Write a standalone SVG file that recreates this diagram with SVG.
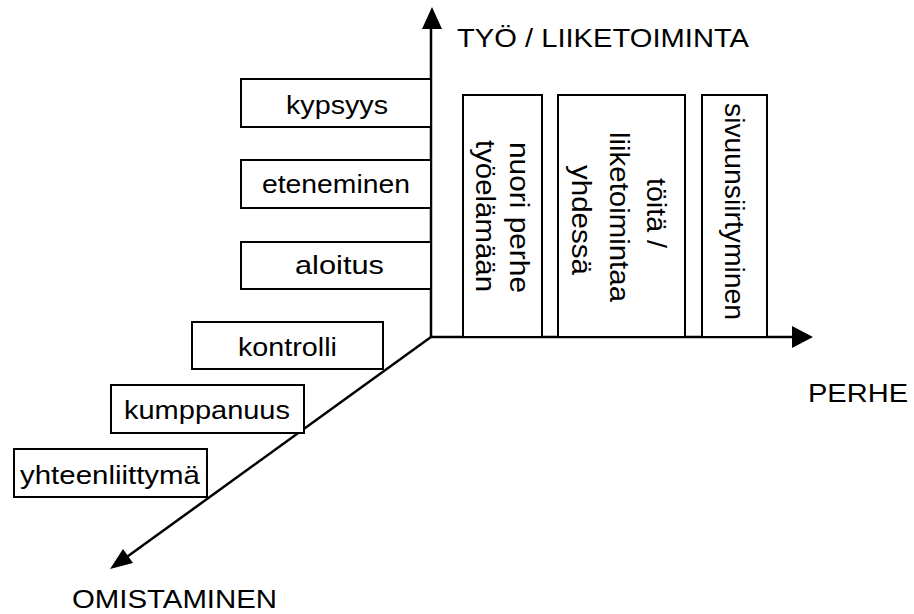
<svg xmlns="http://www.w3.org/2000/svg" width="914" height="614" viewBox="0 0 914 614">
<style>
.box{fill:#fff;stroke:#000;stroke-width:2}
.lbl{font-family:"Liberation Sans",Arial,sans-serif;font-size:26px;fill:#000}
.ax{font-family:"Liberation Sans",Arial,sans-serif;font-size:26.5px;fill:#000}
.rot{font-family:"Liberation Sans",Arial,sans-serif;font-size:27px;fill:#000}
.axis{stroke:#000;stroke-width:2.5;fill:none}
</style>
<rect width="914" height="614" fill="#fff"/>
<g id="connectors">
<line class="axis" x1="431" y1="337" x2="431" y2="24"/>
<polygon points="432,7 422,29 442,29" fill="#000"/>
<line class="axis" x1="431" y1="337" x2="796" y2="337"/>
<polygon points="813,337 792,326 792,348" fill="#000"/>
<line class="axis" x1="431" y1="337" x2="124" y2="559"/>
<polygon points="110,569 123,549 133,563" fill="#000"/>
</g>
<g id="kypsyys"><rect class="box" x="241" y="79" width="190" height="48"/><text class="lbl" x="286" y="114" textLength="102" lengthAdjust="spacingAndGlyphs">kypsyys</text></g>
<g id="eteneminen"><rect class="box" x="241" y="160" width="190" height="48"/><text class="lbl" x="262" y="193" textLength="148" lengthAdjust="spacingAndGlyphs">eteneminen</text></g>
<g id="aloitus"><rect class="box" x="241" y="242" width="190" height="47"/><text class="lbl" x="295" y="274" textLength="89" lengthAdjust="spacingAndGlyphs">aloitus</text></g>
<g id="kontrolli"><rect class="box" x="192" y="322" width="191" height="47"/><text class="lbl" x="238" y="356" textLength="99" lengthAdjust="spacingAndGlyphs">kontrolli</text></g>
<g id="kumppanuus"><rect class="box" x="111" y="385" width="193" height="48"/><text class="lbl" x="124" y="419" textLength="166" lengthAdjust="spacingAndGlyphs">kumppanuus</text></g>
<g id="yhteenliittyma"><rect class="box" x="14" y="449" width="193" height="48"/><text class="lbl" x="20" y="484" textLength="180" lengthAdjust="spacingAndGlyphs">yhteenliittymä</text></g>
<g id="nuori-perhe"><rect class="box" x="463" y="95" width="79" height="242"/>
<text class="rot" transform="translate(510,142) rotate(90)" textLength="151" lengthAdjust="spacingAndGlyphs">nuori perhe</text>
<text class="rot" transform="translate(476,140) rotate(90)" textLength="152" lengthAdjust="spacingAndGlyphs">työelämään</text></g>
<g id="toita-yhdessa"><rect class="box" x="558" y="95" width="127" height="242"/>
<text class="rot" transform="translate(647,178) rotate(90)" textLength="70" lengthAdjust="spacingAndGlyphs">töitä /</text>
<text class="rot" transform="translate(610,132) rotate(90)" textLength="170" lengthAdjust="spacingAndGlyphs">liiketoimintaa</text>
<text class="rot" transform="translate(572,165) rotate(90)" textLength="110" lengthAdjust="spacingAndGlyphs">yhdessä</text></g>
<g id="sivuunsiirtyminen"><rect class="box" x="702" y="95" width="65" height="242"/>
<text class="rot" transform="translate(725,103) rotate(90)" textLength="217" lengthAdjust="spacingAndGlyphs">sivuunsiirtyminen</text></g>
<g id="axis-labels">
<text class="ax" x="457" y="47" textLength="292" lengthAdjust="spacingAndGlyphs">TYÖ / LIIKETOIMINTA</text>
<text class="ax" x="808" y="402" textLength="100" lengthAdjust="spacingAndGlyphs">PERHE</text>
<text class="ax" x="72" y="608" textLength="205" lengthAdjust="spacingAndGlyphs">OMISTAMINEN</text>
</g>
</svg>
